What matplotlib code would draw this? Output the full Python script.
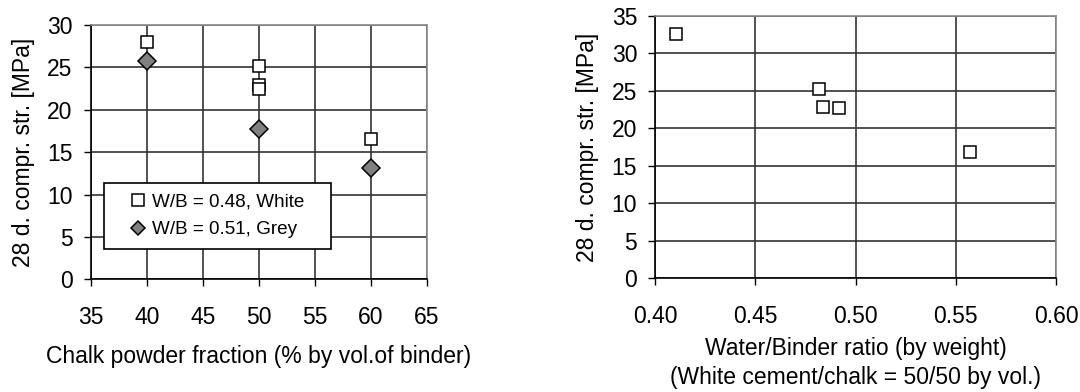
import matplotlib
matplotlib.use("Agg")
import matplotlib.pyplot as plt

plt.rcParams["font.family"] = ["Liberation Sans", "DejaVu Sans"]
plt.rcParams["font.size"] = 16.5

# left panel: strength vs chalk fraction
chalk_white = [40, 50, 50, 50, 60]
str_white = [28.0, 25.2, 22.9, 22.5, 16.5]
chalk_grey = [40, 50, 60]
str_grey = [25.7, 17.7, 13.1]
left_xticks = [35, 40, 45, 50, 55, 60, 65]
left_yticks = [0, 5, 10, 15, 20, 25, 30]

# right panel: strength vs w/b ratio
wb_ratio = [0.4105, 0.4815, 0.4839, 0.4918, 0.5572]
str_wb = [32.5, 25.2, 22.8, 22.7, 16.9]
right_xticks = [0.40, 0.45, 0.50, 0.55, 0.60]
right_yticks = [0, 5, 10, 15, 20, 25, 30, 35]

grid_col = "#333333"
W, H = 1080, 392
fig = plt.figure(figsize=(W / 100, H / 100), dpi=100)


def px_axes(l, t, r, b):
    return fig.add_axes([l / W, 1 - b / H, (r - l) / W, (b - t) / H])


def style(ax, xticks, yticks, xfmt):
    ax.set_xticks(xticks)
    ax.set_yticks(yticks)
    ax.set_xticklabels([xfmt % v for v in xticks])
    ax.set_xlim(xticks[0], xticks[-1])
    ax.set_ylim(yticks[0], yticks[-1])
    ax.grid(True, color=grid_col, lw=1.2)
    ax.set_axisbelow(True)
    for s in ["top", "right"]:
        ax.spines[s].set_color("#8a8a8a")
        ax.spines[s].set_linewidth(1.2)
    for s in ["left", "bottom"]:
        ax.spines[s].set_color("black")
        ax.spines[s].set_linewidth(1.2)
    ax.tick_params(axis="x", direction="out", length=5, width=1, pad=14)
    ax.tick_params(axis="y", direction="out", length=5, width=1, pad=8)


ax1 = px_axes(90.7, 25, 427, 279.3)
style(ax1, left_xticks, left_yticks, "%d")
ax1.plot(chalk_white, str_white, ls="none", marker="s", ms=8.5, mfc="white",
         mec="black", mew=1.1, label="W/B = 0.48, White")
ax1.plot(chalk_grey, str_grey, ls="none", marker="D", ms=9.5, mfc="#808080",
         mec="black", mew=1.1, label="W/B = 0.51, Grey")
ax1.set_xlabel("Chalk powder fraction (% by vol.of binder)", labelpad=12)
ax1.set_ylabel("28 d. compr. str. [MPa]", labelpad=9)
leg = ax1.legend(loc="upper left",
                 bbox_to_anchor=(104 / W, 1 - 248 / H, 227 / W, 65 / H),
                 bbox_transform=fig.transFigure, mode="expand", fancybox=False,
                 framealpha=1, edgecolor="black", fontsize=13.6,
                 handlelength=2.5, handletextpad=-0.5, borderpad=0.55,
                 labelspacing=0.55, borderaxespad=0)
leg.get_frame().set_linewidth(1.2)
leg.legend_handles[0].set_markersize(8)
leg.legend_handles[1].set_markersize(7.5)

ax2 = px_axes(655.3, 15.7, 1056, 278.3)
style(ax2, right_xticks, right_yticks, "%.2f")
ax2.plot(wb_ratio, str_wb, ls="none", marker="s", ms=8.5, mfc="white",
         mec="black", mew=1.1)
ax2.set_xlabel("Water/Binder ratio (by weight)\n(White cement/chalk = 50/50 by vol.)",
               labelpad=7, linespacing=1.3)
ax2.set_ylabel("28 d. compr. str. [MPa]", labelpad=9)

fig.savefig("out.png", dpi=100)
